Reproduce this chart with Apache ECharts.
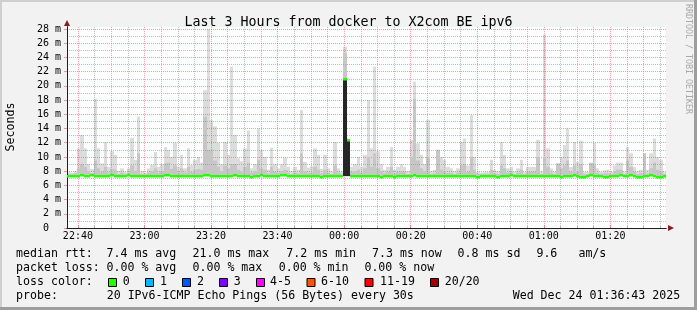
<!DOCTYPE html>
<html><head><meta charset="utf-8">
<script src="https://cdn.jsdelivr.net/npm/echarts@6/dist/echarts.min.js"></script>
<style>html,body{margin:0;padding:0;background:#f2f2f2}#c{width:697px;height:310px}</style>
</head><body><div id="c"></div><script>
// ---- time: minutes since 22:00; first sample 22:36:43, one sample per minute ----
const START = 36 + 43 / 60;
const SPAN = 180;

// median rtt (ms) per minute
const medianRtt = [
7.3,7.3,7.3,7.3,7.4,7.3,7.3,7.4,7.3,7.3,
7.3,7.3,7.3,7.4,7.3,7.3,7.3,7.3,7.4,7.3,
7.3,7.3,7.3,7.3,7.3,7.3,7.3,7.3,7.3,7.4,
7.4,7.3,7.3,7.3,7.3,7.3,7.3,7.3,7.3,7.3,
7.3,7.4,7.4,7.3,7.3,7.3,7.3,7.3,7.3,7.3,
7.4,7.3,7.3,7.3,7.3,7.2,7.3,7.3,7.4,7.3,
7.3,7.3,7.3,7.3,7.4,7.4,7.3,7.3,7.3,7.3,
7.3,7.3,7.3,7.3,7.3,7.3,7.2,7.3,7.3,7.3,
7.3,7.3,7.3,21.0,12.4,7.3,7.3,7.3,7.3,7.3,
7.3,7.3,7.3,7.3,7.2,7.3,7.3,7.3,7.2,7.3,
7.3,7.3,7.3,7.3,7.4,7.3,7.3,7.3,7.3,7.3,
7.3,7.3,7.3,7.3,7.3,7.3,7.3,7.3,7.3,7.3,
7.3,7.3,7.3,7.2,7.3,7.3,7.3,7.3,7.3,7.2,
7.3,7.3,7.3,7.4,7.3,7.3,7.3,7.3,7.3,7.3,
7.3,7.3,7.3,7.3,7.3,7.3,7.3,7.3,7.2,7.3,
7.3,7.3,7.4,7.3,7.2,7.2,7.3,7.4,7.3,7.3,
7.3,7.2,7.2,7.3,7.3,7.3,7.4,7.3,7.3,7.4,
7.3,7.2,7.2,7.3,7.3,7.4,7.3,7.2,7.2,7.3];

// highest ping per minute (outer, light smoke)
const smokeMax = [
7.9,7.8,8.0,11.2,13.1,11.2,9.0,8.3,18.2,11.2,
9.1,12.1,8.6,10.8,10.3,8.0,8.4,7.9,8.4,12.7,
9.6,15.7,8.0,7.8,8.4,8.9,10.7,8.6,9.0,11.4,
11.0,10.0,12.0,8.6,10.3,8.4,11.2,8.9,9.6,10.0,
9.2,19.4,28.0,15.2,14.3,12.0,9.0,12.1,10.3,22.7,
13.1,9.8,9.4,11.2,13.7,8.4,9.0,14.0,11.0,10.0,
8.2,11.3,9.0,8.4,9.0,9.9,8.6,8.0,8.6,8.2,
16.6,9.3,8.5,8.7,11.2,10.3,8.3,10.3,8.4,8.0,
12.1,8.4,8.0,25.5,12.6,8.6,9.0,10.0,8.6,10.3,
18.0,11.2,22.7,10.8,9.0,8.2,8.6,11.4,8.2,8.6,
9.0,8.6,8.0,12.4,20.6,11.9,10.3,9.0,15.2,8.0,
8.2,11.0,10.0,9.6,8.6,8.4,8.0,8.4,12.1,12.6,
8.8,15.9,10.0,7.9,7.8,7.9,7.9,9.6,8.2,8.0,
12.1,10.3,8.4,8.6,7.9,8.4,9.6,7.9,8.6,8.6,
8.6,12.4,8.0,27.2,11.2,8.4,7.9,9.0,10.0,11.7,
14.0,8.6,12.1,9.3,12.3,7.9,7.9,9.2,12.0,8.4,
7.9,8.1,8.2,7.9,8.8,9.2,9.2,7.9,11.4,10.5,
8.6,8.0,8.2,10.5,8.2,10.5,12.6,10.0,9.6,7.9];

// inner (darker) smoke top per minute
const smokeMid = [
7.6,7.6,7.7,8.4,9.0,8.6,8.0,7.7,9.5,8.4,
7.9,8.6,7.8,8.3,8.2,7.6,7.8,7.6,7.8,8.8,
8.0,10.5,7.6,7.6,7.8,8.0,8.4,7.8,8.0,9.1,
9.2,8.3,8.8,7.8,8.4,7.8,8.6,7.9,8.2,8.3,
8.2,15.7,11.0,11.0,9.5,8.6,8.0,8.8,8.4,9.0,
9.0,8.2,8.0,8.6,9.2,7.8,8.0,9.6,8.4,8.2,
7.7,8.6,7.9,7.8,8.0,8.2,7.8,7.6,7.8,7.7,
10.5,8.0,7.8,7.8,8.6,8.2,7.7,8.2,7.8,7.6,
8.8,7.8,7.6,24.6,12.4,7.9,8.0,8.2,7.8,8.4,
10.0,8.6,10.5,8.4,8.0,7.7,7.9,8.6,7.7,7.9,
8.0,7.9,7.6,10.0,18.2,9.5,8.4,8.0,10.0,7.6,
7.7,11.0,8.2,8.0,7.8,7.8,7.6,7.8,8.8,9.0,
7.9,10.0,8.2,7.6,7.6,7.6,7.6,8.2,7.7,7.6,
8.8,8.4,7.8,7.9,7.6,7.8,8.2,7.6,7.9,7.9,
7.9,10.0,7.6,10.0,8.6,7.8,7.6,9.1,8.4,8.8,
9.5,7.9,8.8,8.0,9.0,7.6,7.6,9.1,8.8,7.8,
7.6,7.7,7.7,7.6,8.0,8.2,8.2,7.6,9.5,8.6,
7.9,7.6,7.7,10.5,7.7,8.4,9.2,8.2,8.0,7.6];

// dense (near-black) smoke: [minute index, low, high]
const smokeCore = [[83, 7.3, 21.0], [84, 7.3, 12.4]];

// axis ticks
const xMajor = [40, 60, 80, 100, 120, 140, 160, 180, 200];
const xMajorLabels = ['22:40','23:00','23:20','23:40','00:00','00:20','00:40','01:00','01:20'];
const xMinor = [45,50,55,65,70,75,85,90,95,105,110,115,125,130,135,145,150,155,165,170,175,185,190,195,205,210,215];
const yMajor = [0,2,4,6,8,10,12,14,16,18,20,22,24,26,28];
const yMinor = [1,3,5,7,9,11,13,15,17,19,21,23,25,27];

// legend texts
const title = 'Last 3 Hours from docker to X2com BE ipv6';
const rttLegend = ['median rtt:', '7.4 ms avg', '21.0 ms max', '7.2 ms min', '7.3 ms now', '0.8 ms sd', '9.6', 'am/s'];
const lossLegend = ['packet loss:', '0.00 % avg', '0.00 % max', '0.00 % min', '0.00 % now'];
const lossLabels = ['0','1','2','3','4-5','6-10','11-19','20/20'];
const lossColors = ['#26ff00','#00b8ff','#0059ff','#7e00ff','#ff00ff','#ff5500','#ff0000','#a00000'];
const probeLegend = ['probe:', '20 IPv6-ICMP Echo Pings (56 Bytes) every 30s', 'Wed Dec 24 01:36:43 2025'];

// ---- layout (pixels) ----
const rttX = [16, 106.5, 192.5, 286.3, 372, 457.6, 536.4, 578.4];
const lossX = [16, 106.5, 192.5, 278.7, 364.4];
const boxX = [108, 145, 182, 219, 256, 306.5, 364.5, 430];
const boxLabelX = [122.7, 160.1, 197.1, 233.7, 270.1, 321.1, 380.1, 444.7];
const probeX = [16, 106.7, 512.7];
const MONO = '"DejaVu Sans Mono", monospace';
const LFS = 11.6;

function bandData(highs, lows) {
  const d = [];
  for (let i = 0; i < highs.length; i++) if (highs[i] != null) d.push([START + i, lows[i], highs[i]]);
  return d;
}
function rectRender(color) {
  return function (params, api) {
    const t = api.value(0), lo = api.value(1), hi = api.value(2);
    const a = api.coord([t, lo]), b = api.coord([t + 1, hi]);
    const x0 = Math.round(a[0]), x1 = Math.round(b[0]);
    return { type: 'rect', shape: { x: x0, y: b[1], width: x1 - x0, height: a[1] - b[1] }, style: { fill: color } };
  };
}
function medianRender(params, api) {
  const t = api.value(0), m = api.value(1);
  const a = api.coord([t, m]), b = api.coord([t + 1, m]);
  const x0 = Math.round(a[0]), x1 = Math.round(b[0]);
  return { type: 'rect', shape: { x: x0, y: Math.round(a[1]) - 1, width: x1 - x0, height: 2.5 }, style: { fill: lossColors[0] } };
}

const graphics = [];
function txt(x, y, s) {
  graphics.push({ type: 'text', x: x, y: y, silent: true,
    style: { text: s, fontFamily: MONO, fontSize: LFS, fill: '#000', verticalAlign: 'middle' } });
}
rttLegend.forEach((s, i) => txt(rttX[i], 254, s));
lossLegend.forEach((s, i) => txt(lossX[i], 268, s));
txt(16, 282, 'loss color:');
lossLabels.forEach((s, i) => {
  graphics.push({ type: 'rect', silent: true, shape: { x: boxX[i] + 0.5, y: 278.5, width: 8, height: 8 },
    style: { fill: lossColors[i], stroke: '#000', lineWidth: 1 } });
  txt(boxLabelX[i], 282, s);
});
probeLegend.forEach((s, i) => txt(probeX[i], 296, s));
graphics.push({ type: 'text', x: 11, y: 127, rotation: Math.PI / 2, silent: true,
  style: { text: 'Seconds', fontFamily: MONO, fontSize: LFS, fill: '#000', align: 'center', verticalAlign: 'middle' } });
graphics.push({ type: 'text', x: 688, y: 4, rotation: -Math.PI / 2, silent: true,
  style: { text: 'RRDTOOL / TOBI OETIKER', fontFamily: MONO, fontSize: 8.3, fill: '#a8a8a8', align: 'left', verticalAlign: 'middle' } });
graphics.push({ type: 'rect', silent: true, shape: { x: 0, y: 0, width: 697, height: 2 }, style: { fill: '#cfcfcf' } });
graphics.push({ type: 'rect', silent: true, shape: { x: 0, y: 0, width: 2, height: 310 }, style: { fill: '#cfcfcf' } });
graphics.push({ type: 'rect', silent: true, shape: { x: 0, y: 307, width: 697, height: 3 }, style: { fill: '#9e9e9e' } });
graphics.push({ type: 'rect', silent: true, shape: { x: 694, y: 0, width: 3, height: 310 }, style: { fill: '#9e9e9e' } });

const GRID = 'rgba(143,143,143,0.6)';
const MGRID = 'rgba(222,79,79,0.55)';
const AXIS = '#1f1f1f';
const ARROW = '#801f1f';
const XMIN = START, XMAX = START + SPAN, YMAX = 28.3;

const option = {
  animation: false,
  backgroundColor: '#f2f2f2',
  title: { text: title, left: 'center', top: 11,
    textStyle: { fontFamily: MONO, fontSize: 13.3, fontWeight: 'normal', color: '#000' } },
  grid: { left: 67, right: 31, top: 26.9, bottom: 82, show: true, backgroundColor: '#ffffff', borderWidth: 0,
    containLabel: false, outerBoundsMode: 'none' },
  xAxis: [
    { type: 'value', min: XMIN, max: XMAX, position: 'bottom', z: 3,
      axisLine: { show: true, onZero: false, lineStyle: { color: ARROW, width: 1 },
        symbol: ['none', 'triangle'], symbolSize: [6, 6], symbolOffset: [0, 5] },
      axisTick: { show: true, inside: true, length: 3, customValues: xMajor, lineStyle: { color: MGRID } },
      axisLabel: { customValues: xMajor, margin: 3, fontFamily: MONO, fontSize: 10, color: '#000',
        formatter: v => xMajorLabels[xMajor.indexOf(Math.round(v))] },
      splitLine: { show: true, lineStyle: { color: MGRID, width: 1, type: [1, 1] } } },
    { type: 'value', min: XMIN, max: XMAX, position: 'bottom', z: 4,
      axisLine: { show: true, onZero: false, lineStyle: { color: AXIS, width: 1 } },
      axisTick: { show: true, inside: true, length: 2, customValues: xMinor, lineStyle: { color: GRID } },
      axisLabel: { show: false, customValues: xMinor },
      splitLine: { show: true, lineStyle: { color: GRID, width: 1, type: [1, 1] } } }
  ],
  yAxis: [
    { type: 'value', min: 0, max: YMAX, position: 'left', z: 3,
      axisLine: { show: true, onZero: false, lineStyle: { color: ARROW, width: 1 },
        symbol: ['none', 'triangle'], symbolSize: [6, 6], symbolOffset: [0, 4] },
      axisTick: { show: true, inside: false, length: 3, customValues: yMajor, lineStyle: { color: MGRID } },
      axisLabel: { customValues: yMajor, margin: 6, fontFamily: MONO, fontSize: 10, color: '#000',
        formatter: v => (v === 0 ? '0  ' : v + ' m') },
      splitLine: { show: true, lineStyle: { color: MGRID, width: 1, type: [1, 1] } } },
    { type: 'value', min: 0, max: YMAX, position: 'left', z: 4,
      axisLine: { show: true, onZero: false, lineStyle: { color: AXIS, width: 1 } },
      axisTick: { show: false, customValues: yMinor },
      axisLabel: { show: false, customValues: yMinor },
      splitLine: { show: true, lineStyle: { color: GRID, width: 1, type: [1, 1] } } }
  ],
  series: [
    { type: 'custom', name: 'smoke max', silent: true, z: 2, clip: true,
      data: bandData(smokeMax, medianRtt), encode: { x: 0, y: [1, 2] }, renderItem: rectRender('#dcdcdc') },
    { type: 'custom', name: 'smoke mid', silent: true, z: 3, clip: true,
      data: bandData(smokeMid, medianRtt), encode: { x: 0, y: [1, 2] }, renderItem: rectRender('#c6c6c6') },
    { type: 'custom', name: 'smoke core', silent: true, z: 4, clip: true,
      data: smokeCore.map(r => [START + r[0], r[1], r[2]]), encode: { x: 0, y: [1, 2] }, renderItem: rectRender('#262626') },
    { type: 'custom', name: 'median rtt', silent: true, z: 5, clip: false,
      data: medianRtt.map((v, i) => [START + i, v]), encode: { x: 0, y: 1 }, renderItem: medianRender }
  ],
  graphic: graphics
};
const chart = echarts.init(document.getElementById('c'), null, { renderer: 'canvas' });
chart.setOption(option);
</script></body></html>
